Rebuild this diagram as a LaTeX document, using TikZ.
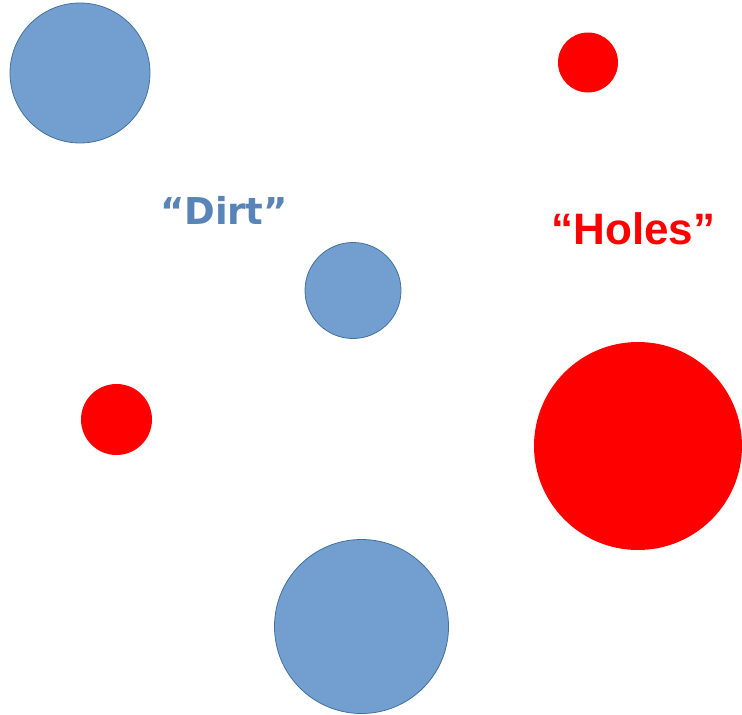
\documentclass[tikz,border=0pt]{standalone}
\usepackage{fontspec}
\setmainfont{Liberation Sans}
\newfontfamily\dirtfont{DejaVu Sans}
\definecolor{dirtfill}{RGB}{114,159,207}
\definecolor{dirtline}{RGB}{65,113,156}
\definecolor{dirttext}{RGB}{88,132,183}
\definecolor{holered}{RGB}{255,0,0}
\tikzset{
  dirt/.style={circle, fill=dirtfill, draw=dirtline, line width=0.8pt, inner sep=0pt},
  hole/.style={circle, fill=holered, inner sep=0pt},
}
\begin{document}
\begin{tikzpicture}[x=1pt,y=-1pt]
\useasboundingbox (0,0) rectangle (742,715);
\node[dirt, minimum size=140] (d1) at (80,73) {};
\node[dirt, minimum size=96] (d2) at (353,290.5) {};
\node[dirt, minimum size=174] (d3) at (361.5,626.5) {};
\node[hole, minimum size=60] (h1) at (588,62.5) {};
\node[hole, minimum size=71] (h2) at (116.5,419.5) {};
\node[hole, minimum size=208] (h3) at (638,446) {};
\node[anchor=base, text=dirttext, font=\dirtfont\bfseries\fontsize{37}{40}\selectfont, inner sep=0pt] (tdirt) at (224,224) {“Dirt”};
\node[anchor=base, text=holered, font=\bfseries\fontsize{44}{48}\selectfont, inner sep=0pt] (tholes) at (633.5,244) {“Holes”};
\end{tikzpicture}
\end{document}
